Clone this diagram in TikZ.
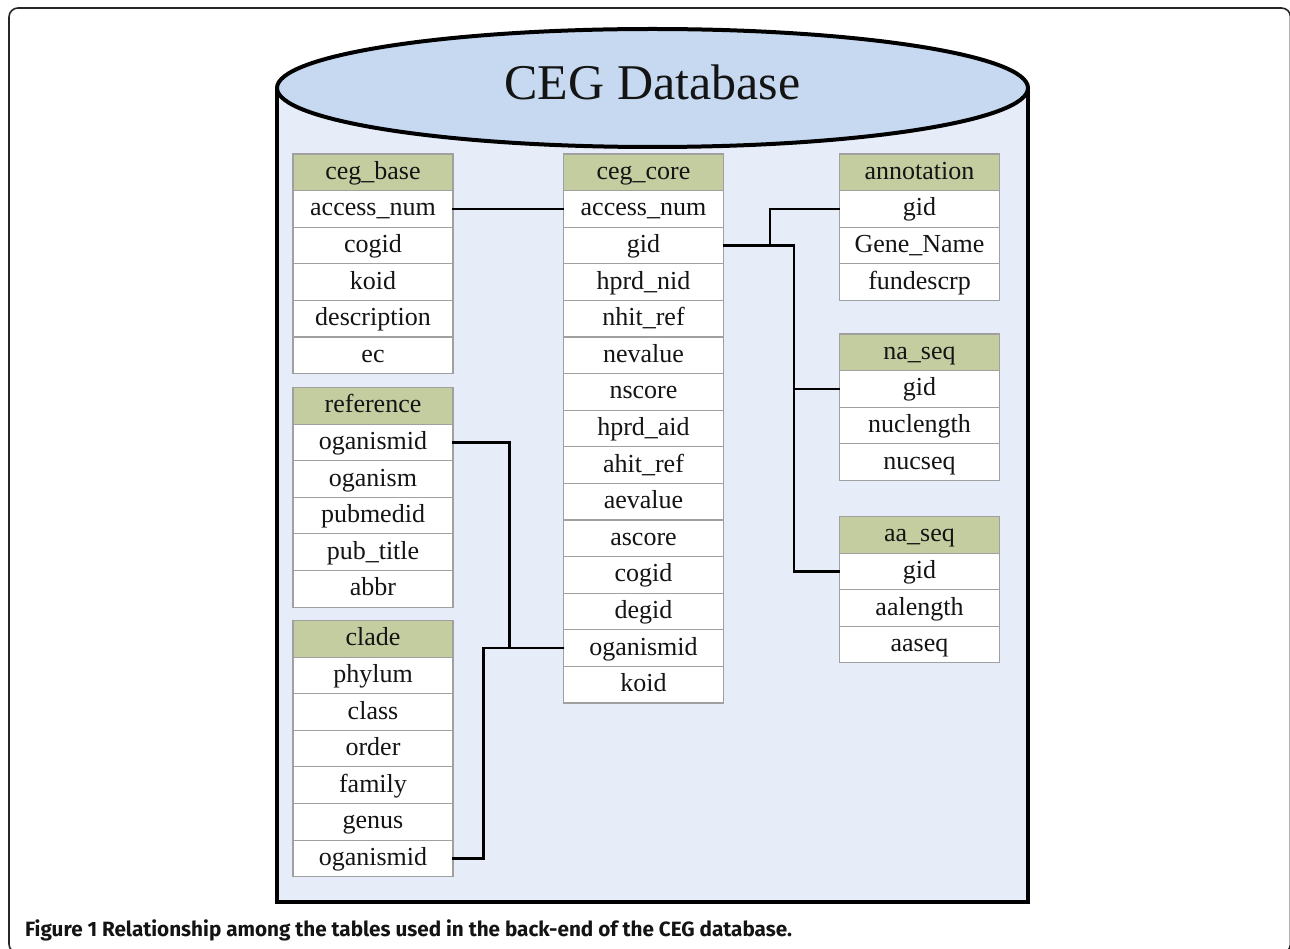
\documentclass[tikz,border=0pt]{standalone}
\usepackage{fontspec}
\setmainfont{Liberation Serif}
\newfontfamily\capfont{Fira Sans}
\definecolor{lidblue}{RGB}{198,217,240}
\definecolor{bodyblue}{RGB}{230,237,248}
\definecolor{headolive}{RGB}{196,205,160}
\definecolor{cellline}{RGB}{160,160,160}
\definecolor{inkdark}{RGB}{20,20,20}
\newcommand\dbtable[5]{% name, x centre, top y, header, fields
  \node[headcell] (#1-0) at (#2,{#3+18.3}) {#4};
  \foreach \f [count=\i] in {#5}
    \node[cell] (#1-\i) at (#2,{#3+18.3+\i*36.6}) {\f};
}
\begin{document}
\begin{tikzpicture}[x=1pt,y=-1pt,
  cell/.style={draw=cellline,line width=1.1pt,fill=white,minimum width=160pt,
    minimum height=36.6pt,inner sep=0pt,text height=18pt,text depth=4pt,
    text=inkdark,font=\fontsize{26}{29}\selectfont},
  headcell/.style={cell,fill=headolive},
  link/.style={draw=black,line width=2.6pt,line cap=rect}]
\useasboundingbox (0,0) rectangle (1290,949);
% outer frame
\draw[line width=1.6pt,draw=black!85,rounded corners=9pt] (9,8) rectangle (1290.5,953);
% database cylinder
\path[fill=bodyblue,draw=black,line width=4pt] (277,88) -- (277,902) -- (1028,902) -- (1028,88);
\path[fill=lidblue,draw=black,line width=4pt] (652.5,88) ellipse [x radius=375.5pt,y radius=59pt];
\node[text=inkdark,font=\fontsize{50}{56}\selectfont] (title) at (652.5,82) {CEG Database};
% tables
\dbtable{base}{373}{154}{ceg\_base}{access\_num,cogid,koid,description,ec}
\dbtable{ref}{373}{387.5}{reference}{oganismid,oganism,pubmedid,pub\_title,abbr}
\dbtable{clade}{373}{620.5}{clade}{phylum,class,order,family,genus,oganismid}
\dbtable{core}{643.5}{154}{ceg\_core}{access\_num,gid,hprd\_nid,nhit\_ref,nevalue,nscore,hprd\_aid,ahit\_ref,aevalue,ascore,cogid,degid,oganismid,koid}
\dbtable{ann}{919.5}{154}{annotation}{gid,Gene\_Name,fundescrp}
\dbtable{na}{919.5}{334}{na\_seq}{gid,nuclength,nucseq}
\dbtable{aa}{919.5}{516.5}{aa\_seq}{gid,aalength,aaseq}
% relationships
\draw[link] (base-1.east) -- (core-1.west);
\draw[link] (core-2.east) -- ++(70,0) coordinate (gidbus) |- (aa-1.west);
\coordinate (gidfork) at ([xshift=46pt]core-2.east);
\draw[link] (gidfork) |- (ann-1.west);
\draw[link] (na-1.west) -- (na-1.west -| gidbus);
\draw[link] (ref-1.east) -- ++(56,0) |- (core-13.west);
\draw[link] (clade-6.east) -- ++(30,0) |- (core-13.west);
% caption
\node[anchor=west,inner sep=0pt,text=inkdark,font=\capfont\bfseries\fontsize{20.7}{24}\selectfont] (caption) at (25,930)
  {Figure 1 Relationship among the tables used in the back-end of the CEG database.};
\end{tikzpicture}
\end{document}
